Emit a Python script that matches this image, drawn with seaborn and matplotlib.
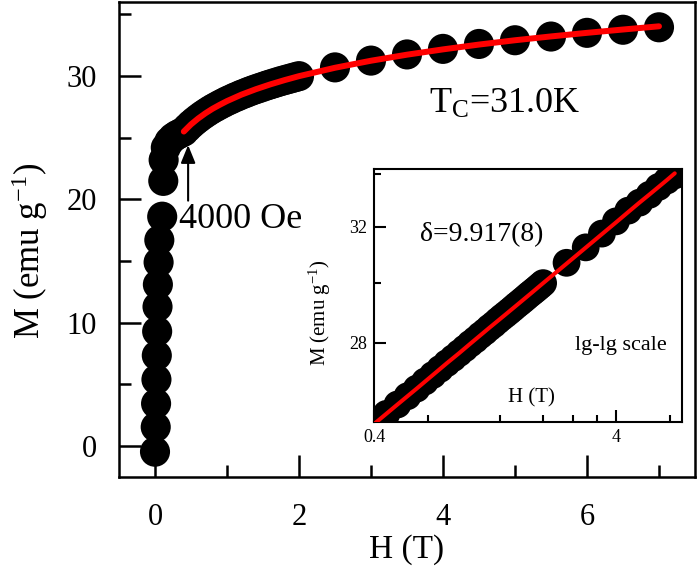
import matplotlib
matplotlib.use('Agg')
import matplotlib.pyplot as plt
import pandas as pd
import seaborn as sns
from matplotlib.ticker import FixedLocator, FixedFormatter, NullFormatter

# ---------------- data ----------------
H_low = [0.000, 0.010, 0.015, 0.020, 0.025, 0.030, 0.035, 0.040, 0.050, 0.060,
         0.100, 0.115, 0.120, 0.150, 0.200, 0.250, 0.300, 0.350]
M_low = [-0.45, 1.55, 3.45, 5.40, 7.35, 9.30, 11.30, 13.10, 14.90, 16.70,
         18.60, 21.50, 23.20, 24.20, 24.70, 25.00, 25.20, 25.35]

H_band = [0.40, 0.45, 0.50, 0.55, 0.60, 0.65, 0.70, 0.75, 0.80, 0.85, 0.90,
          0.95, 1.00, 1.05, 1.10, 1.15, 1.20, 1.25, 1.30, 1.35, 1.40, 1.45,
          1.50, 1.55, 1.60, 1.65, 1.70, 1.75, 1.80, 1.85, 1.90, 1.95, 2.00]
M_band = [25.50, 25.80, 26.08, 26.33, 26.56, 26.78, 26.98, 27.17, 27.35, 27.51,
          27.67, 27.82, 27.97, 28.10, 28.24, 28.36, 28.49, 28.60, 28.72, 28.83,
          28.93, 29.03, 29.13, 29.23, 29.32, 29.41, 29.50, 29.59, 29.67, 29.75,
          29.83, 29.91, 29.99]

H_high = [2.5, 3.0, 3.5, 4.0, 4.5, 5.0, 5.5, 6.0, 6.5, 7.0]
M_high = [30.70, 31.25, 31.75, 32.20, 32.60, 32.90, 33.20, 33.50, 33.75, 33.95]

H_fit = [0.4, 0.5, 0.6, 0.7, 0.8, 0.9, 1.0, 1.2, 1.4, 1.6, 1.8, 2.0, 2.5,
         3.0, 3.5, 4.0, 4.5, 5.0, 5.5, 6.0, 6.5, 7.0]
M_fit = [25.50, 26.08, 26.56, 26.98, 27.35, 27.67, 27.97, 28.49, 28.93, 29.32,
         29.67, 29.99, 30.67, 31.24, 31.73, 32.16, 32.55, 32.90, 33.21, 33.50,
         33.77, 34.03]

main_xticks = [0, 2, 4, 6]
main_xminor = [1, 3, 5, 7]
main_yticks = [0, 10, 20, 30]
main_yminor = [5, 15, 25, 35]

inset_xticks = [0.4, 4]
inset_xticklabels = ['0.4', '4']
inset_xminor = [0.667, 1.333, 2.0, 2.667, 3.333, 6.667]
inset_yticks = [28, 32]
inset_yticklabels = ['28', '32']
inset_yminor = [30, 34]

# ---------------- style ----------------
sns.set_style('ticks')
plt.rcParams['font.family'] = ['Liberation Serif', 'DejaVu Serif']
plt.rcParams['mathtext.fontset'] = 'custom'
plt.rcParams['mathtext.rm'] = 'Liberation Serif'
plt.rcParams['mathtext.it'] = 'Liberation Serif:italic'
plt.rcParams['mathtext.bf'] = 'Liberation Serif:bold'
for key in ['text.color', 'axes.labelcolor', 'xtick.color', 'ytick.color',
            'axes.edgecolor']:
    plt.rcParams[key] = 'black'

df = pd.DataFrame({'H': H_low + H_band + H_high, 'M': M_low + M_band + M_high})
fit = pd.DataFrame({'H': H_fit, 'M': M_fit})

fig = plt.figure(figsize=(7, 5.73), dpi=100)

# ---------------- main axes ----------------
ax = fig.add_axes([119 / 700, 1 - 477 / 573, 576 / 700, 475 / 573])
sns.scatterplot(data=df, x='H', y='M', ax=ax, s=470, color='black',
                edgecolor='none', linewidth=0, legend=False, zorder=2)
sns.lineplot(data=fit, x='H', y='M', ax=ax, color='#ff0000', lw=4.3,
             estimator=None, sort=False, zorder=3)
ax.set_xlim(-0.5, 7.5)
ax.set_ylim(-2.5, 36)
ax.xaxis.set_major_locator(FixedLocator(main_xticks))
ax.xaxis.set_minor_locator(FixedLocator(main_xminor))
ax.yaxis.set_major_locator(FixedLocator(main_yticks))
ax.yaxis.set_minor_locator(FixedLocator(main_yminor))
ax.tick_params(which='both', direction='in', top=False, right=False,
               width=1.8, color='black', labelcolor='black')
ax.tick_params(which='major', length=15.6, labelsize=22)
ax.tick_params(which='minor', length=8.5)
ax.tick_params(axis='x', which='major', pad=19)
ax.tick_params(axis='y', which='major', pad=16)
for sp in ax.spines.values():
    sp.set_visible(True)
    sp.set_linewidth(1.8)
    sp.set_color('black')

ax.set_xlabel('H (T)', fontsize=24, color='black')
ax.xaxis.set_label_coords(0.5, -0.12)
ax.set_ylabel('M (emu g$^{-1}$)', fontsize=25, color='black')
ax.yaxis.set_label_coords(-0.12, 0.476)

ax.text(3.80, 27.0, r'T$_\mathrm{C}$=31.0K', fontsize=26, ha='left', va='baseline')
ax.text(0.34, 17.7, '4000 Oe', fontsize=26, ha='left', va='baseline')
ax.annotate('', xy=(0.46, 24.4), xytext=(0.46, 19.9),
            arrowprops=dict(arrowstyle='-|>,head_length=0.54,head_width=0.22',
                            mutation_scale=20, color='black', lw=1.5,
                            shrinkA=0, shrinkB=0), zorder=4)

# ---------------- inset ----------------
axi = fig.add_axes([374 / 700, 1 - 422 / 573, 308 / 700, 253 / 573])
dfi = df[df['H'] >= 0.3]
sns.scatterplot(data=dfi, x='H', y='M', ax=axi, s=20 ** 2, color='black',
                edgecolor='none', linewidth=0, legend=False, zorder=2)
sns.lineplot(data=fit, x='H', y='M', ax=axi, color='#ff0000', lw=2.9,
             estimator=None, sort=False, zorder=3)
axi.set_xscale('log')
axi.set_yscale('log')
axi.set_xlim(0.4, 7.5)
axi.set_ylim(25.56, 34.2)
axi.xaxis.set_major_locator(FixedLocator(inset_xticks))
axi.xaxis.set_major_formatter(FixedFormatter(inset_xticklabels))
axi.xaxis.set_minor_locator(FixedLocator(inset_xminor))
axi.xaxis.set_minor_formatter(NullFormatter())
axi.yaxis.set_major_locator(FixedLocator(inset_yticks))
axi.yaxis.set_major_formatter(FixedFormatter(inset_yticklabels))
axi.yaxis.set_minor_locator(FixedLocator(inset_yminor))
axi.yaxis.set_minor_formatter(NullFormatter())
axi.tick_params(which='both', direction='in', top=False, right=False,
                width=1.5, color='black', labelcolor='black')
axi.tick_params(which='major', length=8.6, labelsize=13, pad=5)
axi.tick_params(which='minor', length=5)
for sp in axi.spines.values():
    sp.set_visible(True)
    sp.set_linewidth(1.5)
    sp.set_color('black')
axi.set_xlabel('')
axi.set_ylabel('M (emu g$^{-1}$)', fontsize=15, color='black')
axi.yaxis.set_label_coords(-0.133, 0.43)
axi.text(0.51, 0.095, 'H (T)', transform=axi.transAxes, fontsize=15,
         ha='center', va='center')
axi.text(0.35, 0.739, 'δ=9.917(8)', transform=axi.transAxes, fontsize=20,
         ha='center', va='center')
axi.text(0.80, 0.304, 'lg-lg scale', transform=axi.transAxes, fontsize=16,
         ha='center', va='center')

fig.savefig('out.png', dpi=100)
